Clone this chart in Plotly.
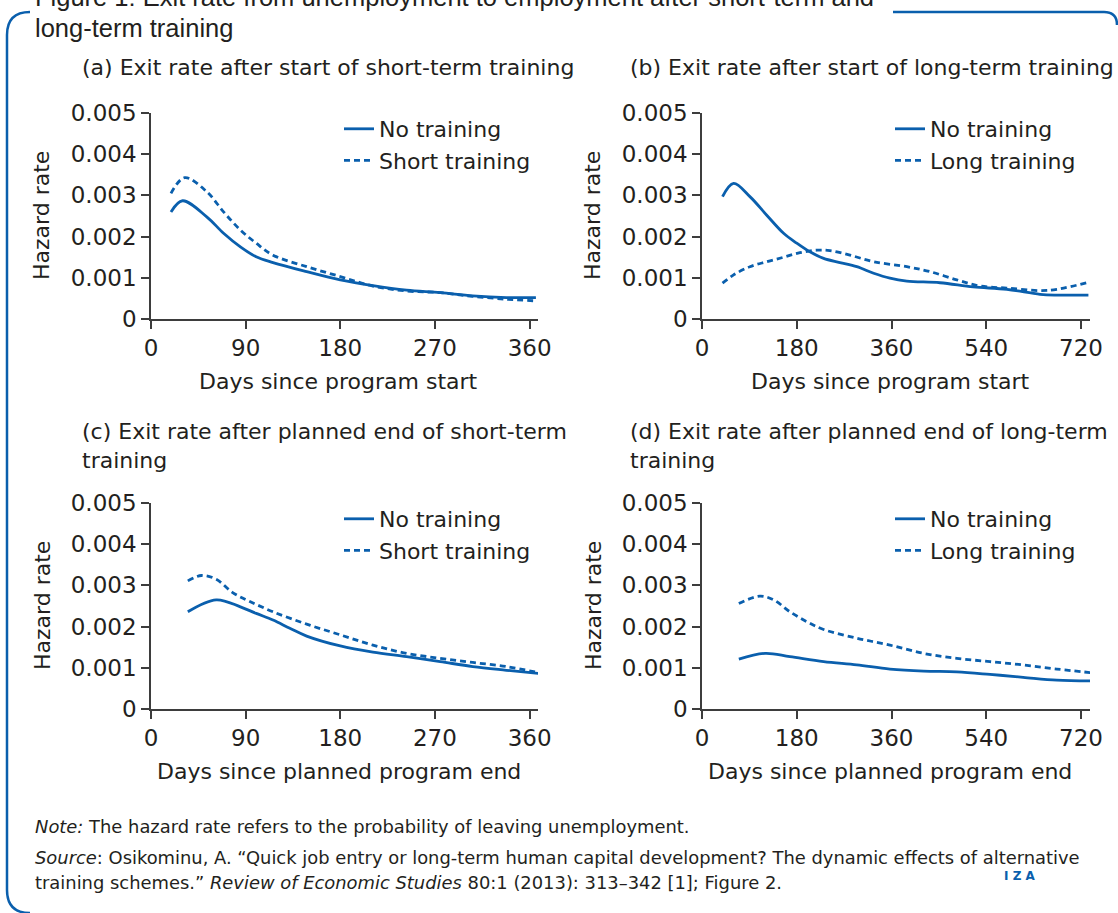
import plotly.graph_objects as go

# ---------------- data ----------------
# (a) exit rate after start of short-term training
a_no_x = [19, 30, 53, 69, 85, 100, 116, 148, 180, 211, 243, 275, 306, 338, 366]
a_no_y = [0.00260, 0.00287, 0.00248, 0.00208, 0.00175, 0.00151, 0.00137, 0.00115, 0.00095, 0.00081,
          0.00070, 0.00064, 0.00056, 0.00052, 0.00052]
a_tr_x = [19, 32, 53, 69, 85, 100, 116, 148, 180, 211, 243, 275, 306, 338, 366]
a_tr_y = [0.00305, 0.00343, 0.00309, 0.00260, 0.00216, 0.00184, 0.00155, 0.00127, 0.00103, 0.00080,
          0.00068, 0.00064, 0.00055, 0.00048, 0.00044]

# (b) exit rate after start of long-term training
b_no_x = [39, 60, 91, 123, 155, 180, 205, 231, 262, 294, 326, 357, 389, 452, 515, 579, 642, 674, 734]
b_no_y = [0.00297, 0.00329, 0.00297, 0.00252, 0.00208, 0.00184, 0.00163, 0.00147, 0.00137, 0.00127,
          0.00111, 0.00099, 0.00092, 0.00088, 0.00078, 0.00072, 0.00060, 0.00058, 0.00058]
b_tr_x = [39, 60, 91, 123, 155, 186, 218, 243, 281, 326, 389, 433, 484, 528, 579, 642, 674, 734]
b_tr_y = [0.00087, 0.00107, 0.00127, 0.00139, 0.00150, 0.00161, 0.00167, 0.00166, 0.00155, 0.00139,
          0.00127, 0.00115, 0.00095, 0.00080, 0.00075, 0.00069, 0.00072, 0.00089]

# (c) exit rate after planned end of short-term training
c_no_x = [35, 62, 85, 100, 116, 132, 148, 180, 211, 243, 275, 306, 338, 369]
c_no_y = [0.00236, 0.00265, 0.00248, 0.00232, 0.00216, 0.00196, 0.00177, 0.00153, 0.00138, 0.00127,
          0.00115, 0.00103, 0.00094, 0.00086]
c_tr_x = [35, 48, 62, 78, 94, 116, 148, 180, 211, 243, 275, 306, 338, 369]
c_tr_y = [0.00311, 0.00324, 0.00315, 0.00282, 0.00261, 0.00236, 0.00206, 0.00180, 0.00155, 0.00135,
          0.00123, 0.00113, 0.00103, 0.00088]

# (d) exit rate after planned end of long-term training
d_no_x = [70, 120, 167, 231, 294, 357, 421, 484, 547, 610, 674, 740]
d_no_y = [0.00121, 0.00135, 0.00127, 0.00115, 0.00107, 0.00097, 0.00092, 0.00090, 0.00084, 0.00077,
          0.00070, 0.00068]
d_tr_x = [70, 110, 136, 167, 199, 231, 294, 357, 421, 484, 547, 610, 674, 740]
d_tr_y = [0.00256, 0.00274, 0.00265, 0.00236, 0.00212, 0.00193, 0.00172, 0.00155, 0.00135, 0.00123,
          0.00115, 0.00107, 0.00097, 0.00088]

y_ticks = [0, 0.001, 0.002, 0.003, 0.004, 0.005]
y_ticktext = ["0", "0.001", "0.002", "0.003", "0.004", "0.005"]
x_ticks_short = [0, 90, 180, 270, 360]
x_ticks_long = [0, 180, 360, 540, 720]

panel_titles = ["(a) Exit rate after start of short-term training",
                "(b) Exit rate after start of long-term training",
                "(c) Exit rate after planned end of short-term<br>training",
                "(d) Exit rate after planned end of long-term<br>training"]
x_titles = ["Days since program start", "Days since program start",
            "Days since planned program end", "Days since planned program end"]
y_title = "Hazard rate"
series_names = [("No training", "Short training"), ("No training", "Long training"),
                ("No training", "Short training"), ("No training", "Long training")]

# ---------------- layout helpers ----------------
W, H = 1118, 913
BLUE = "#0a5fad"
TXT = "#231f20"
AX = "#3d3d3d"
FONT = "DejaVu Sans"


def px(x):
    return x / W


def py(y):
    return 1 - y / H


panels = [
    dict(x0=151, x1=538, y0=113, y1=319, xmax=368, xt=x_ticks_short),
    dict(x0=702, x1=1090, y0=113, y1=319, xmax=737, xt=x_ticks_long),
    dict(x0=151, x1=538, y0=503, y1=709, xmax=368, xt=x_ticks_short),
    dict(x0=702, x1=1090, y0=503, y1=709, xmax=737, xt=x_ticks_long),
]
data = [(a_no_x, a_no_y, a_tr_x, a_tr_y), (b_no_x, b_no_y, b_tr_x, b_tr_y),
        (c_no_x, c_no_y, c_tr_x, c_tr_y), (d_no_x, d_no_y, d_tr_x, d_tr_y)]

fig = go.Figure()
layout = dict(width=W, height=H, autosize=False,
              margin=dict(l=0, r=0, t=0, b=0, pad=0, autoexpand=False),
              paper_bgcolor="white", plot_bgcolor="white",
              font=dict(family=FONT, size=22, color=TXT))
annotations = []

for i, (p, d) in enumerate(zip(panels, data)):
    n = i + 1
    xa = "xaxis" if n == 1 else f"xaxis{n}"
    ya = "yaxis" if n == 1 else f"yaxis{n}"
    xr = "x" if n == 1 else f"x{n}"
    yr = "y" if n == 1 else f"y{n}"
    lg = "legend" if n == 1 else f"legend{n}"
    nx, ny, tx, ty = d
    fig.add_trace(go.Scatter(x=nx, y=ny, mode="lines", name=series_names[i][0],
                             line=dict(color=BLUE, width=2.8, shape="spline"),
                             xaxis=xr, yaxis=yr, legend=lg))
    fig.add_trace(go.Scatter(x=tx, y=ty, mode="lines", name=series_names[i][1],
                             line=dict(color=BLUE, width=2.8, shape="spline", dash="6px,4px"),
                             xaxis=xr, yaxis=yr, legend=lg))
    layout[xa] = dict(domain=[px(p["x0"]), px(p["x1"])], range=[0, p["xmax"]], anchor=yr,
                      tickvals=p["xt"], ticks="outside", ticklen=8, tickwidth=1.6, tickcolor=AX,
                      showline=True, linecolor=AX, linewidth=1.6, showgrid=False, zeroline=False,
                      automargin=False,
                      tickfont=dict(size=23, color=TXT, family=FONT), fixedrange=True)
    layout[ya] = dict(domain=[py(p["y1"]), py(p["y0"])], range=[0, 0.005], anchor=xr,
                      tickvals=y_ticks, ticktext=y_ticktext, ticks="outside", ticklen=8,
                      tickwidth=1.6, tickcolor=AX, showline=True, linecolor=AX, linewidth=1.6,
                      showgrid=False, zeroline=False, automargin=False,
                      tickfont=dict(size=23, color=TXT, family=FONT), fixedrange=True)
    layout[lg] = dict(x=px(p["x0"] + 188), y=py(p["y0"] - 5), xanchor="left", yanchor="top",
                      bgcolor="rgba(0,0,0,0)", borderwidth=0,
                      font=dict(size=22, color=TXT, family=FONT), traceorder="normal")
    # panel title
    title_left = 80 if n in (1, 3) else 628
    title_y = p["y0"] - 45 if n in (1, 2) else p["y0"] - 57
    annotations.append(dict(text=panel_titles[i], x=px(title_left), y=py(title_y),
                            xref="paper", yref="paper", xanchor="left", yanchor="middle",
                            align="left", showarrow=False,
                            font=dict(size=22, color=TXT, family=FONT)))
    # x-axis title
    annotations.append(dict(text=x_titles[i], x=px((p["x0"] + p["x1"]) / 2 - 6),
                            y=py(p["y1"] + 62), xref="paper", yref="paper",
                            xanchor="center", yanchor="middle", showarrow=False,
                            font=dict(size=22, color=TXT, family=FONT)))
    # y-axis title
    annotations.append(dict(text=y_title, x=px(p["x0"] - 109), y=py((p["y0"] + p["y1"]) / 2),
                            xref="paper", yref="paper", xanchor="center", yanchor="middle",
                            textangle=-90, showarrow=False,
                            font=dict(size=22, color=TXT, family=FONT)))

# figure title (top line is cut by the image edge, as in the reference)
annotations.append(dict(text="Figure 1: Exit rate from unemployment to employment after short-term and",
                        x=px(33), y=py(-3), xref="paper", yref="paper", xanchor="left",
                        yanchor="middle", showarrow=False,
                        font=dict(size=25.5, color=TXT, family="Liberation Sans")))
annotations.append(dict(text="long-term training", x=px(33), y=py(28), xref="paper", yref="paper",
                        xanchor="left", yanchor="middle", showarrow=False,
                        font=dict(size=25.5, color=TXT, family="Liberation Sans")))
# note and source
annotations.append(dict(text="<i>Note:</i> The hazard rate refers to the probability of leaving unemployment.",
                        x=px(33), y=py(826), xref="paper", yref="paper", xanchor="left",
                        yanchor="middle", showarrow=False,
                        font=dict(size=17.9, color=TXT, family=FONT)))
annotations.append(dict(text="<i>Source</i>: Osikominu, A. \u201cQuick job entry or long-term human capital "
                             "development? The dynamic effects of alternative",
                        x=px(33), y=py(857), xref="paper", yref="paper", xanchor="left",
                        yanchor="middle", showarrow=False,
                        font=dict(size=17.9, color=TXT, family=FONT)))
annotations.append(dict(text="training schemes.\u201d <i>Review of Economic Studies</i> 80:1 (2013): "
                             "313\u2013342 [1]; Figure 2.",
                        x=px(33), y=py(882), xref="paper", yref="paper", xanchor="left",
                        yanchor="middle", showarrow=False,
                        font=dict(size=17.9, color=TXT, family=FONT)))
annotations.append(dict(text="<b>I Z A</b>", x=px(1020), y=py(876), xref="paper", yref="paper",
                        xanchor="center", yanchor="middle", showarrow=False,
                        font=dict(size=12, color=BLUE, family=FONT)))
layout["annotations"] = annotations

# decorative frame
frame_left = (f"M {px(30)},{py(12)} Q {px(7)},{py(12)} {px(7)},{py(35)} "
              f"L {px(7)},{py(890)} Q {px(7)},{py(913)} {px(30)},{py(913)}")
frame_top = (f"M {px(893)},{py(12)} L {px(1104)},{py(12)} Q {px(1117)},{py(12)} {px(1117)},{py(25)}")
layout["shapes"] = [
    dict(type="path", path=frame_left, xref="paper", yref="paper",
         line=dict(color=BLUE, width=2.5)),
    dict(type="path", path=frame_top, xref="paper", yref="paper",
         line=dict(color=BLUE, width=2.5)),
]

fig.update_layout(**layout)
fig.write_html("out.html", config={"displayModeBar": False},
               post_script="document.body.style.margin='0';document.body.style.overflow='hidden';")
